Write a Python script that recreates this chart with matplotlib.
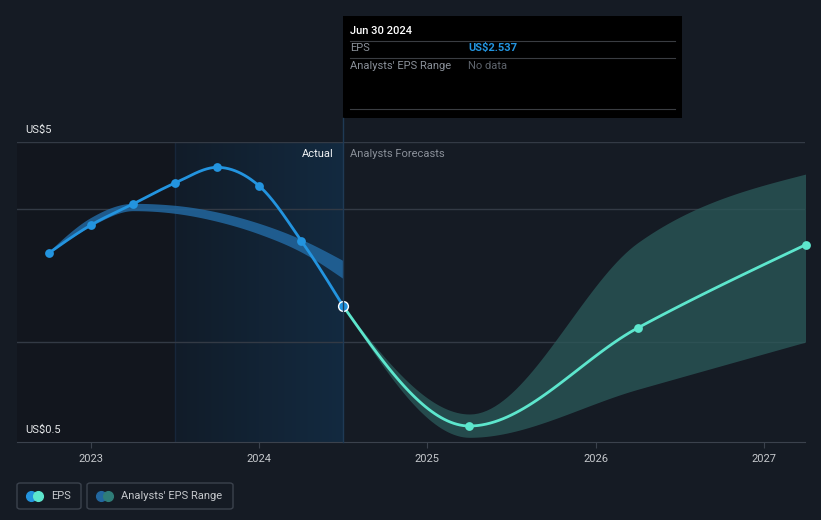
import numpy as np
import matplotlib
matplotlib.use('Agg')
import matplotlib.pyplot as plt
from matplotlib.patches import Rectangle, FancyBboxPatch
from matplotlib.lines import Line2D
from matplotlib.colors import LinearSegmentedColormap

plt.rcParams['font.family'] = ['Roboto', 'DejaVu Sans']

# %%
# Data
eps_x = [2022.75, 2023.0, 2023.25, 2023.5, 2023.75, 2024.0, 2024.25, 2024.5]
eps_y = [3.335, 3.755, 4.07, 4.385, 4.62, 4.34, 3.52, 2.537]

past_x = [2022.75, 2023.0, 2023.25, 2023.5, 2023.75, 2024.0, 2024.25, 2024.5]
past_low = [3.33, 3.74, 3.97, 3.93, 3.81, 3.62, 3.35, 2.95]
past_high = [3.36, 3.87, 4.08, 4.05, 3.95, 3.78, 3.54, 3.22]

fc_x = [2024.5, 2025.25, 2026.25, 2027.25]
fc_y = [2.537, 0.74, 2.21, 3.46]
fc_low = [2.537, 0.57, 1.29, 2.0]
fc_high = [2.537, 0.92, 3.49, 4.52]

grid_vals = [5, 4, 2]
years = [2023, 2024, 2025, 2026, 2027]

# %%
# Monotone cubic curve (same look as the chart's smoothed lines)
def smooth(x, y, n=40):
    x = np.asarray(x, float); y = np.asarray(y, float)
    h = np.diff(x); d = np.diff(y) / h
    m = np.zeros_like(y)
    for i in range(1, len(y) - 1):
        if d[i-1] * d[i] <= 0:
            m[i] = 0
        else:
            p = (d[i-1] * h[i] + d[i] * h[i-1]) / (h[i-1] + h[i])
            m[i] = np.sign(d[i-1]) * min(abs(p), 2 * abs(d[i-1]), 2 * abs(d[i]))
    m[0] = (3 * d[0] - m[1]) / 2 if len(y) > 2 else d[0]
    m[-1] = (3 * d[-1] - m[-2]) / 2 if len(y) > 2 else d[-1]
    xs, ys = [], []
    for i in range(len(h)):
        t = np.linspace(0, 1, n, endpoint=(i == len(h) - 1))
        h00 = 2*t**3 - 3*t**2 + 1; h10 = t**3 - 2*t**2 + t
        h01 = -2*t**3 + 3*t**2; h11 = t**3 - t**2
        xs.append(x[i] + t * h[i])
        ys.append(h00*y[i] + h10*h[i]*m[i] + h01*y[i+1] + h11*h[i]*m[i+1])
    return np.concatenate(xs), np.concatenate(ys)

# %%
bg = '#151b24'
W, H = 821, 520
fig = plt.figure(figsize=(W/100, H/100), dpi=100, facecolor=bg)
ax = fig.add_axes([17/W, (H-442)/H, (805-17)/W, 300/H])
ax.set_facecolor(bg)
x0, x1 = 2022.56, 2027.245
ax.set_xlim(x0, x1)
ax.set_ylim(0.5, 5)

# past (dark) region and "Actual" shaded region
ax.axvspan(x0, 2023.5, color='#12161e', zorder=0, lw=0)
grad = np.linspace(0, 1, 256).reshape(1, -1)
cmap = LinearSegmentedColormap.from_list('g', ['#111c29', '#132a40'])
ax.imshow(grad, extent=[2023.5, 2024.5, 0.5, 5], aspect='auto', cmap=cmap, zorder=0.5)
ax.axvline(2023.5, color='#17263a', lw=1, zorder=0.6)

for g in grid_vals:
    ax.axhline(g, color='#333a45', lw=1, zorder=1)

# analysts' past consensus band
bx, bl = smooth(past_x, past_low)
_, bh = smooth(past_x, past_high)
ax.fill_between(bx, bl, bh, color='#22679f', alpha=0.85, lw=0, zorder=2)

# forecast range
fx, fl = smooth(fc_x, fc_low)
_, fh = smooth(fc_x, fc_high)
ax.fill_between(fx, fl, fh, color='#2b5a5a', alpha=0.75, lw=0, zorder=2)

# EPS lines
ex, ey = smooth(eps_x, eps_y)
ax.plot(ex, ey, color='#2394df', lw=2, zorder=3, solid_capstyle='round')
ax.scatter(eps_x[:-1], eps_y[:-1], s=40, color='#2394df', zorder=4, lw=0)
cx, cy = smooth(fc_x, fc_y)
ax.plot(cx, cy, color='#5de6cd', lw=2, zorder=3, solid_capstyle='round')
ax.scatter(fc_x[1:], fc_y[1:], s=40, color='#5de6cd', zorder=4, lw=0, clip_on=False)
ax.scatter([eps_x[-1]], [eps_y[-1]], s=50, color='#2394df', edgecolor='white', lw=1, zorder=5)

for s in ['top', 'right', 'left']:
    ax.spines[s].set_visible(False)
ax.spines['bottom'].set_color('#3b424d')
ax.set_yticks([])
ax.set_xticks(years)
ax.set_xticklabels([str(y) for y in years])
ax.tick_params(axis='x', colors='#3b424d', labelcolor='#c5c8cc', labelsize=8, length=4, pad=5)

# hover line
fig.add_artist(Line2D([343/W, 343/W], [(H-442)/H, (H-118)/H], color='#1f3a55', lw=1))

# y labels
fig.text(25/W, (H-130)/H, 'US$5', color='#e6e8ea', fontsize=8, va='center')
fig.text(25/W, (H-430)/H, 'US$0.5', color='#e6e8ea', fontsize=8, va='center')
fig.text(334/W, (H-154)/H, 'Actual', color='#f0f2f4', fontsize=8, va='center', ha='right')
fig.text(350/W, (H-154)/H, 'Analysts Forecasts', color='#8a9099', fontsize=8, va='center')

# tooltip
fig.add_artist(Rectangle((343/W, (H-118)/H), 339/W, 102/H, color='black', lw=0))
fig.text(350/W, (H-31)/H, 'Jun 30 2024', color='white', fontsize=8, va='center', fontweight='medium')
for yy in [41, 58, 109]:
    fig.add_artist(Line2D([350/W, 675/W], [(H-yy)/H]*2, color='#3a3d42', lw=0.8))
fig.text(350/W, (H-48)/H, 'EPS', color='#8a9099', fontsize=8, va='center')
fig.text(468/W, (H-48)/H, 'US$2.537', color='#2394df', fontsize=8, va='center', fontweight='bold')
fig.text(350/W, (H-66)/H, "Analysts' EPS Range", color='#8a9099', fontsize=8, va='center')
fig.text(468/W, (H-66)/H, 'No data', color='#5e646c', fontsize=8, va='center')

# legend
def legend_box(xl, xr, c1, c2, label):
    fig.add_artist(FancyBboxPatch((xl/W, (H-509)/H), (xr-xl)/W, 26/H,
                   boxstyle='round,pad=0,rounding_size=0.004', fc='none', ec='#3b424d', lw=1))
    fig.add_artist(Line2D([(xl+14)/W], [(H-496)/H], marker='o', ms=7, color=c1, lw=0))
    fig.add_artist(Line2D([(xl+21)/W], [(H-496)/H], marker='o', ms=7, color=c2, lw=0))
    fig.text((xl+34)/W, (H-496)/H, label, color='#c5c8cc', fontsize=8, va='center')

legend_box(17, 81, '#2394df', '#5de6cd', 'EPS')
legend_box(87, 233, '#22679f', '#2f7d78', "Analysts' EPS Range")

plt.savefig('out.png', dpi=100, facecolor=bg)
plt.close()
